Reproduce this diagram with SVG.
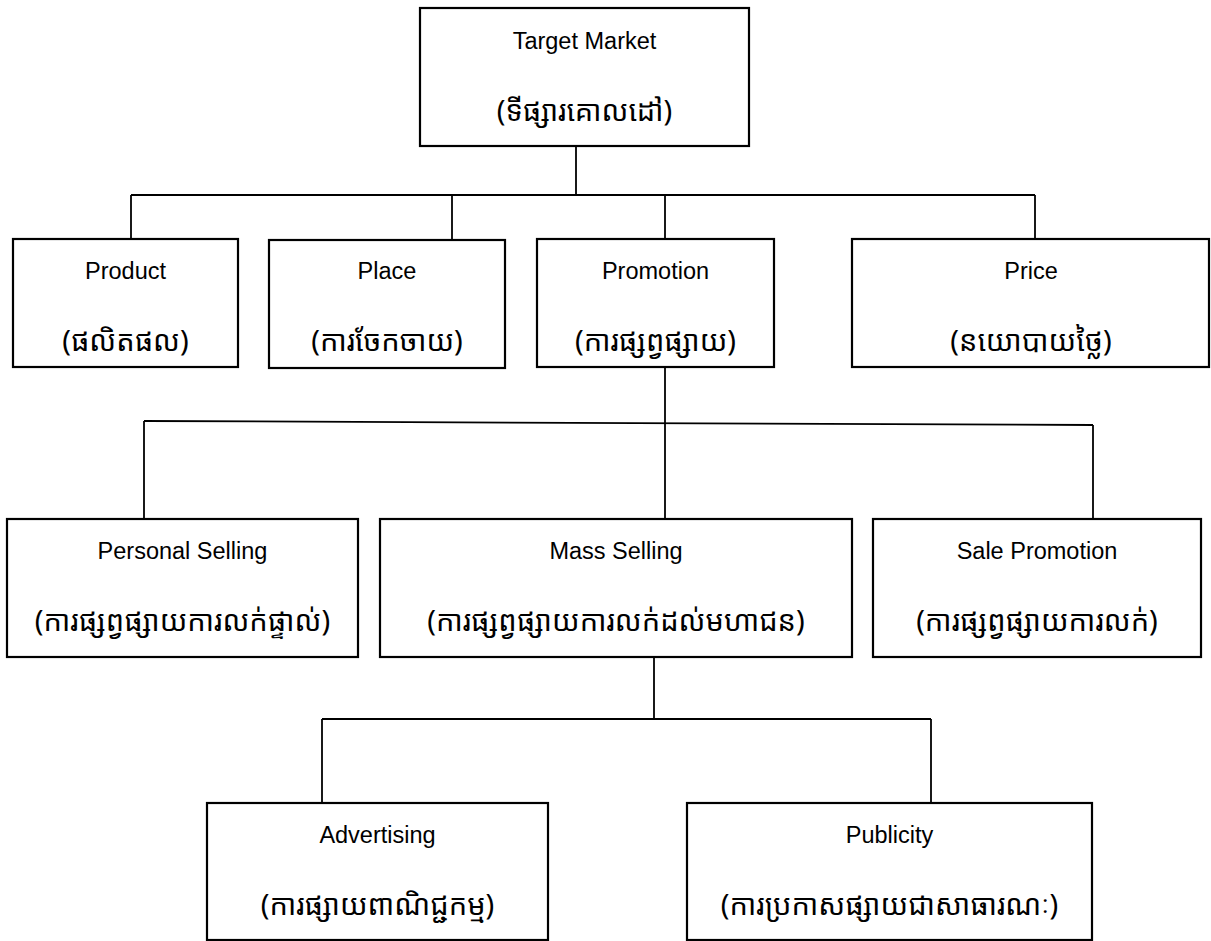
<svg xmlns="http://www.w3.org/2000/svg" width="1211" height="941" viewBox="0 0 1211 941">
  <style>
    .box { fill: #ffffff; stroke: #000000; stroke-width: 2.2; }
    .wire { fill: none; stroke: #000000; stroke-width: 1.8; }
    .en { font-family: "Liberation Sans", Arial, sans-serif; font-size: 23.5px; fill: #000000; text-anchor: middle; }
    .km { font-family: "Noto Sans Khmer", "Noto Serif Khmer", "Khmer OS", "Khmer OS System", "Leelawadee UI", "Liberation Sans", sans-serif; font-size: 29px; fill: #000000; text-anchor: middle; }
  </style>

  <rect width="1211" height="941" fill="#ffffff"/>

  <!-- connectors -->
  <g id="connectors">
    <line class="wire" x1="576" y1="146" x2="576" y2="195"/>
    <line class="wire" x1="131" y1="195" x2="1035" y2="195"/>
    <line class="wire" x1="131" y1="195" x2="131" y2="239"/>
    <line class="wire" x1="452" y1="195" x2="452" y2="240"/>
    <line class="wire" x1="665" y1="195" x2="665" y2="239"/>
    <line class="wire" x1="1035" y1="195" x2="1035" y2="239"/>

    <line class="wire" x1="665" y1="367" x2="665" y2="519"/>
    <line class="wire" x1="144" y1="421" x2="1093" y2="425"/>
    <line class="wire" x1="144" y1="421" x2="144" y2="519"/>
    <line class="wire" x1="1093" y1="425" x2="1093" y2="519"/>

    <line class="wire" x1="654" y1="657" x2="654" y2="719"/>
    <line class="wire" x1="322" y1="719" x2="931" y2="719"/>
    <line class="wire" x1="322" y1="719" x2="322" y2="803"/>
    <line class="wire" x1="931" y1="719" x2="931" y2="803"/>
  </g>

  <g id="target-market">
    <rect class="box" x="420" y="8" width="329" height="138"/>
    <text class="en" x="584.5" y="49">Target Market</text>
    <text class="km" x="584.5" y="121">(ទីផ្សារគោលដៅ)</text>
  </g>

  <g id="product">
    <rect class="box" x="13" y="239" width="225" height="128"/>
    <text class="en" x="125.5" y="279">Product</text>
    <text class="km" x="125.5" y="351">(ផលិតផល)</text>
  </g>

  <g id="place">
    <rect class="box" x="269" y="240" width="236" height="128"/>
    <text class="en" x="387" y="279">Place</text>
    <text class="km" x="387" y="351">(ការចែកចាយ)</text>
  </g>

  <g id="promotion">
    <rect class="box" x="537" y="239" width="237" height="128"/>
    <text class="en" x="655.5" y="279">Promotion</text>
    <text class="km" x="655.5" y="351">(ការផ្សព្វផ្សាយ)</text>
  </g>

  <g id="price">
    <rect class="box" x="852" y="239" width="357" height="128"/>
    <text class="en" x="1031" y="279">Price</text>
    <text class="km" x="1031" y="351">(នយោបាយថ្លៃ)</text>
  </g>

  <g id="personal-selling">
    <rect class="box" x="7" y="519" width="351" height="138"/>
    <text class="en" x="182.5" y="559">Personal Selling</text>
    <text class="km" x="182.5" y="631">(ការផ្សព្វផ្សាយការលក់ផ្ទាល់)</text>
  </g>

  <g id="mass-selling">
    <rect class="box" x="380" y="519" width="472" height="138"/>
    <text class="en" x="616" y="559">Mass Selling</text>
    <text class="km" x="616" y="631">(ការផ្សព្វផ្សាយការលក់ដល់មហាជន)</text>
  </g>

  <g id="sale-promotion">
    <rect class="box" x="873" y="519" width="328" height="138"/>
    <text class="en" x="1037" y="559">Sale Promotion</text>
    <text class="km" x="1037" y="631">(ការផ្សព្វផ្សាយការលក់)</text>
  </g>

  <g id="advertising">
    <rect class="box" x="207" y="803" width="341" height="137"/>
    <text class="en" x="377.5" y="843">Advertising</text>
    <text class="km" x="377.5" y="915">(ការផ្សាយពាណិជ្ជកម្ម)</text>
  </g>

  <g id="publicity">
    <rect class="box" x="687" y="803" width="405" height="137"/>
    <text class="en" x="889.5" y="843">Publicity</text>
    <text class="km" x="889.5" y="915">(ការប្រកាសផ្សាយជាសាធារណៈ)</text>
  </g>
</svg>
